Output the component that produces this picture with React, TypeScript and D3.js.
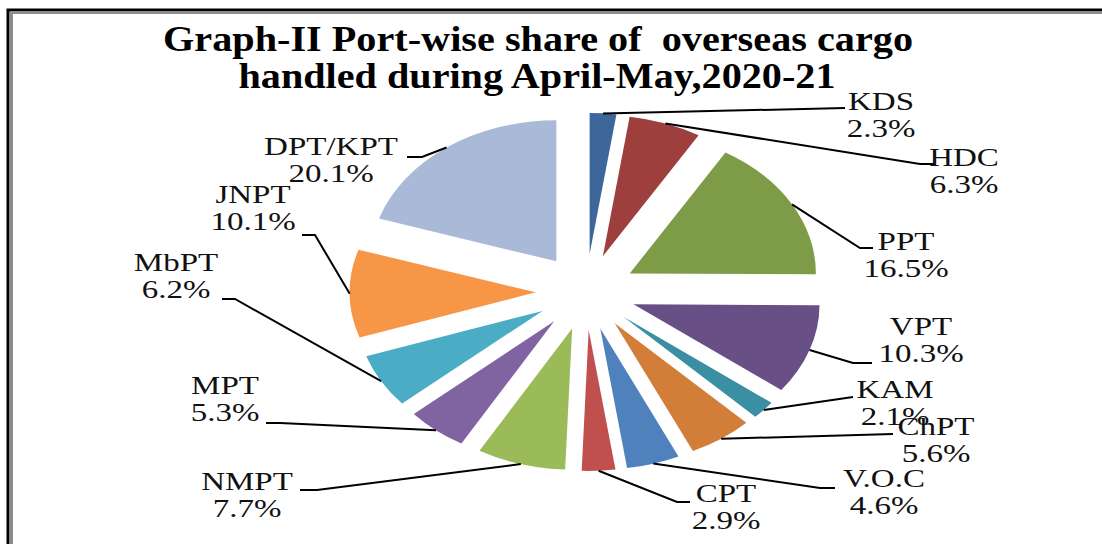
import React from 'react';
import * as d3 from 'd3';

const PORTS = ['KDS', 'HDC', 'PPT', 'VPT', 'KAM', 'ChPT', 'V.O.C', 'CPT', 'NMPT', 'MPT', 'MbPT', 'JNPT', 'DPT/KPT'];
const SHARES = [2.3, 6.3, 16.5, 10.3, 2.1, 5.6, 4.6, 2.9, 7.7, 5.3, 6.2, 10.1, 20.1];
const COLORS = ['#3d679b', '#9d403d', '#7e9b48', '#684f86', '#3a8fa3', '#d27d38', '#4f81bd', '#c0504d', '#9bbb59', '#8064a2', '#4bacc6', '#f79646', '#a9bad8'];
const TITLE = ['Graph-II Port-wise share of  overseas cargo', 'handled during April-May,2020-21'];

// label placement (centre x, first baseline) and leader-line bends
const LABEL_AT = [
  [881, 110], [964, 166], [906, 250], [921, 335], [895, 398], [936, 435], [884, 487],
  [726, 502], [247, 490], [225, 394], [176, 271], [253, 203], [331, 155],
];
const LEADER_BENDS = [
  [[845, 108]],
  [[920, 164], [935, 164]],
  [[860, 248], [873, 248]],
  [[853, 363], [872, 363]],
  [[853, 397]],
  [[893, 434]],
  [[820, 488], [835, 488]],
  [[677, 502], [690, 502]],
  [[317, 490], [300, 490]],
  [[280, 423], [266, 423]],
  [[235, 299], [222, 299]],
  [[315, 235], [302, 235]],
  [[422, 157], [407, 157]],
];

const W = 1102;
const H = 544;
const CX = 586;
const CY = 292;
const R = 141;
const EXPLODE = 38;
const SX = 1.32;

const serif = '"Liberation Serif", "Times New Roman", serif';

export default function App() {
  const pie = d3.pie<number>().sort(null).value((v) => v);
  const arcs = pie(SHARES);
  const arc = d3.arc<d3.PieArcDatum<number>>().innerRadius(0).outerRadius(R);
  const line = d3.line();

  const mid = (a: d3.PieArcDatum<number>) => (a.startAngle + a.endAngle) / 2;
  const offset = (a: d3.PieArcDatum<number>) => {
    const m = mid(a);
    return [Math.sin(m) * EXPLODE, -Math.cos(m) * EXPLODE];
  };
  // outer middle of the exploded slice, in page coordinates
  const edgePoint = (a: d3.PieArcDatum<number>): [number, number] => {
    const m = mid(a);
    const rr = R + EXPLODE;
    return [CX + Math.sin(m) * rr * SX, CY - Math.cos(m) * rr];
  };

  return (
    <svg width={W} height={H} style={{ position: 'absolute', left: 0, top: 0, background: '#fff' }}>
      <rect x={0} y={0} width={W} height={H} fill="#fff" />
      {/* frame */}
      <path d={`M8,${H + 5} V10 H${W + 5}`} fill="none" stroke="#000" strokeWidth={3} />
      <path d={`M11.5,${H + 5} V12.5 H${W + 5}`} fill="none" stroke="#8c8c8c" strokeWidth={3} />

      <g fontFamily={serif} fontWeight="bold" fill="#000" fontSize={36} textAnchor="middle">
        <text x={538} y={51} textLength={750} lengthAdjust="spacingAndGlyphs" style={{ whiteSpace: 'pre' }}>{TITLE[0]}</text>
        <text x={537} y={88} textLength={597} lengthAdjust="spacingAndGlyphs">{TITLE[1]}</text>
      </g>

      <g transform={`translate(${CX},${CY}) scale(${SX},1)`}>
        {arcs.map((a, i) => {
          const [dx, dy] = offset(a);
          return <path key={PORTS[i]} d={arc(a) || ''} transform={`translate(${dx},${dy})`} fill={COLORS[i]} />;
        })}
      </g>

      <g fill="none" stroke="#000" strokeWidth={2}>
        {arcs.map((a, i) => (
          <path key={PORTS[i]} d={line([edgePoint(a), ...(LEADER_BENDS[i] as [number, number][])]) || ''} />
        ))}
      </g>

      <g fontFamily={serif} fontSize={26} fill="#111" textAnchor="middle">
        {arcs.map((a, i) => (
          <g key={PORTS[i]} transform={`translate(${LABEL_AT[i][0]},${LABEL_AT[i][1]}) scale(1.27,1)`}>
            <text x={0} y={0}>{PORTS[i]}</text>
            <text x={0} y={27}>{`${SHARES[i].toFixed(1)}%`}</text>
          </g>
        ))}
      </g>
    </svg>
  );
}
